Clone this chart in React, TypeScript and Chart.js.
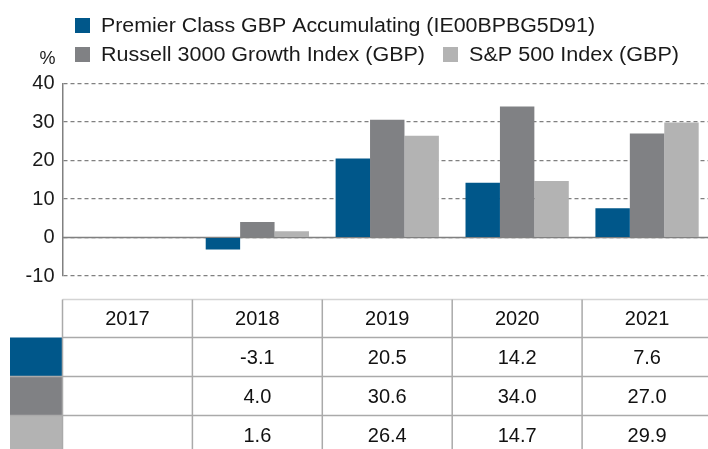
import React, { useEffect, useRef } from "react";
import { Chart, registerables } from "chart.js";

Chart.register(...registerables);

const years = ["2017", "2018", "2019", "2020", "2021"];
const seriesNames = [
  "Premier Class GBP Accumulating (IE00BPBG5D91)",
  "Russell 3000 Growth Index (GBP)",
  "S&P 500 Index (GBP)",
];
const seriesColors = ["#00578A", "#808184", "#B3B3B3"];
const premierValues: (number | null)[] = [null, -3.1, 20.5, 14.2, 7.6];
const russellValues: (number | null)[] = [null, 4.0, 30.6, 34.0, 27.0];
const sp500Values: (number | null)[] = [null, 1.6, 26.4, 14.7, 29.9];
const yTicks = [-10, 0, 10, 20, 30, 40];

const FONT = "'Liberation Sans', Arial, sans-serif";

const overlayPlugin = {
  id: "overlay",
  beforeDatasetsDraw(chart: any) {
    const { ctx, chartArea, scales } = chart;
    const y0 = scales.y.getPixelForValue(0);
    ctx.save();
    ctx.strokeStyle = "#808080";
    ctx.lineWidth = 1.5;
    ctx.beginPath();
    ctx.moveTo(chartArea.left, y0);
    ctx.lineTo(chartArea.right, y0);
    ctx.stroke();
    ctx.restore();
  },
  afterDraw(chart: any) {
    const { ctx, chartArea, scales } = chart;
    const xs = scales.x;
    const datasets = chart.data.datasets;
    ctx.save();
    // Legend
    ctx.textBaseline = "middle";
    ctx.textAlign = "left";
    ctx.font = `20px ${FONT}`;
    const legendItems = [
      { i: 0, sx: 75, y: 26, w: 494 },
      { i: 1, sx: 75, y: 55, w: 324 },
      { i: 2, sx: 443, y: 55, w: 210 },
    ];
    legendItems.forEach((it) => {
      ctx.fillStyle = seriesColors[it.i];
      ctx.fillRect(it.sx, it.y - 8, 15, 15);
      ctx.fillStyle = "#1a1a1a";
      const label = datasets[it.i].label;
      const natural = ctx.measureText(label).width;
      const sx = it.w / natural;
      ctx.save();
      ctx.translate(it.sx + 26, it.y);
      ctx.scale(sx, 1);
      ctx.fillText(label, 0, 0);
      ctx.restore();
    });
    ctx.font = `18px ${FONT}`;
    ctx.textAlign = "center";
    ctx.fillText("%", 47.5, 59);

    // Table
    const step = xs.getPixelForValue(1) - xs.getPixelForValue(0);
    const tableTop = 299.5;
    const headerBottom = 337.5;
    const rowH = 39;
    const bottom = chart.height;
    const left = chartArea.left;
    const right = chartArea.right;
    ctx.lineWidth = 1.5;
    ctx.strokeStyle = "#d4d4d4";
    ctx.beginPath();
    ctx.moveTo(left, tableTop);
    ctx.lineTo(right, tableTop);
    ctx.stroke();

    // swatches
    datasets.forEach((ds: any, r: number) => {
      const top = headerBottom + r * rowH;
      ctx.fillStyle = seriesColors[r];
      ctx.fillRect(10, top, left - 10, Math.min(rowH, bottom - top));
    });

    ctx.strokeStyle = "#aaaaaa";
    ctx.lineWidth = 1.5;
    ctx.beginPath();
    for (let r = 0; r < datasets.length; r++) {
      const yy = headerBottom + r * rowH;
      ctx.moveTo(r === 0 ? left : 10, yy);
      ctx.lineTo(right, yy);
    }
    for (let c = 0; c < years.length; c++) {
      const xx = xs.getPixelForValue(c) - step / 2;
      ctx.moveTo(xx, tableTop);
      ctx.lineTo(xx, bottom);
    }
    ctx.stroke();

    ctx.fillStyle = "#111";
    ctx.font = `20px ${FONT}`;
    ctx.textAlign = "center";
    ctx.textBaseline = "middle";
    years.forEach((yr, c) => {
      const cx = xs.getPixelForValue(c);
      ctx.fillText(yr, cx, (tableTop + headerBottom) / 2 + 1);
      datasets.forEach((ds: any, r: number) => {
        const v = ds.data[c];
        if (v === null || v === undefined) return;
        const cy = headerBottom + r * rowH + rowH / 2 + 1;
        ctx.fillText(Number(v).toFixed(1), cx, cy);
      });
    });
    ctx.restore();
  },
};

export default function App() {
  const canvasRef = useRef<HTMLCanvasElement | null>(null);
  useEffect(() => {
    if (!canvasRef.current) return;
    const chart = new Chart(canvasRef.current, {
      type: "bar",
      data: {
        labels: years,
        datasets: [
          { label: seriesNames[0], data: premierValues, backgroundColor: seriesColors[0] },
          { label: seriesNames[1], data: russellValues, backgroundColor: seriesColors[1] },
          { label: seriesNames[2], data: sp500Values, backgroundColor: seriesColors[2] },
        ],
      },
      options: {
        responsive: false,
        animation: false,
        devicePixelRatio: 1,
        layout: { padding: { top: 83.5, bottom: 173, left: 0, right: 0 } },
        plugins: { legend: { display: false }, tooltip: { enabled: false } },
        datasets: { bar: { categoryPercentage: 0.795, barPercentage: 1 } },
        scales: {
          x: { display: false, grid: { display: false } },
          y: {
            min: -10,
            max: 40,
            afterFit: (scale: any) => {
              scale.width = 62.5;
            },
            afterBuildTicks: (scale: any) => {
              scale.ticks = yTicks.map((v) => ({ value: v }));
            },
            ticks: {
              padding: 8,
              color: "#1a1a1a",
              font: { family: FONT, size: 20 },
            },
            grid: { color: "#808080", drawTicks: false, lineWidth: 1.2 },
            border: { display: true, color: "#808080", width: 1.5, dash: [4, 3] },
          },
        },
      },
      plugins: [overlayPlugin],
    });
    return () => chart.destroy();
  }, []);
  return (
    <div style={{ position: "absolute", left: 0, top: 0, width: 708, height: 449, overflow: "hidden", background: "#fff" }}>
      <canvas ref={canvasRef} width={712} height={449} style={{ display: "block" }} />
    </div>
  );
}
